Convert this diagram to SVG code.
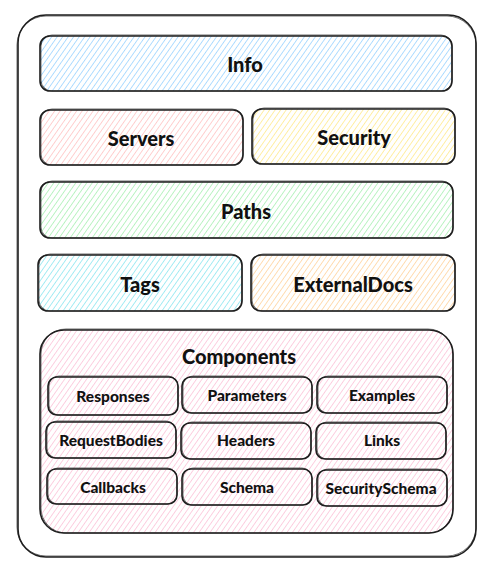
<svg xmlns="http://www.w3.org/2000/svg" width="495" height="572" viewBox="0 0 495 572">
<defs>
<pattern id="hb" width="4.5" height="4.5" patternUnits="userSpaceOnUse" patternTransform="rotate(35)"><line x1="0" y1="0" x2="0" y2="4.5" stroke="#a5d8ff" stroke-width="1.7"/></pattern>
<pattern id="hr" width="4.5" height="4.5" patternUnits="userSpaceOnUse" patternTransform="rotate(35)"><line x1="0" y1="0" x2="0" y2="4.5" stroke="#ffc9c9" stroke-width="1.7"/></pattern>
<pattern id="hy" width="4.5" height="4.5" patternUnits="userSpaceOnUse" patternTransform="rotate(35)"><line x1="0" y1="0" x2="0" y2="4.5" stroke="#ffec99" stroke-width="1.7"/></pattern>
<pattern id="hg" width="4.5" height="4.5" patternUnits="userSpaceOnUse" patternTransform="rotate(35)"><line x1="0" y1="0" x2="0" y2="4.5" stroke="#b2f2bb" stroke-width="1.7"/></pattern>
<pattern id="hc" width="4.5" height="4.5" patternUnits="userSpaceOnUse" patternTransform="rotate(35)"><line x1="0" y1="0" x2="0" y2="4.5" stroke="#99e9f2" stroke-width="1.7"/></pattern>
<pattern id="ho" width="4.5" height="4.5" patternUnits="userSpaceOnUse" patternTransform="rotate(35)"><line x1="0" y1="0" x2="0" y2="4.5" stroke="#ffd8a8" stroke-width="1.7"/></pattern>
<pattern id="hp" width="4.5" height="4.5" patternUnits="userSpaceOnUse" patternTransform="rotate(35)"><line x1="0" y1="0" x2="0" y2="4.5" stroke="#fcc2d7" stroke-width="1.5"/></pattern>
</defs>
<style>
.b{fill:none;stroke:#1e1e1e;stroke-width:1.6;stroke-linejoin:round}
.b2{fill:none;stroke:#1e1e1e;stroke-width:0.9;opacity:0.7}
.t{font-family:Lato,"Open Sans","DejaVu Sans",sans-serif;font-weight:900;fill:#111111;text-anchor:middle;dominant-baseline:central}
.l{font-size:20px}
.s{font-size:15.5px}
</style>
<rect width="495" height="572" fill="#ffffff"/>
<g id="container">
<rect class="b" x="18" y="15" width="458" height="542" rx="28"/>
<rect class="b2" x="17" y="16" width="459" height="540" rx="29"/>
</g>
<g id="info">
<rect x="40" y="36" width="412" height="55" rx="10" fill="url(#hb)"/>
<rect class="b" x="40" y="36" width="412" height="55" rx="10"/>
<rect class="b2" x="41" y="35" width="411" height="56" rx="11"/>
<text class="t l" x="245" y="64">Info</text>
</g>
<g id="servers">
<rect x="40" y="110" width="203" height="55" rx="10" fill="url(#hr)"/>
<rect class="b" x="40" y="110" width="203" height="55" rx="10"/>
<rect class="b2" x="41" y="109" width="202" height="56" rx="11"/>
<text class="t l" x="141" y="138">Servers</text>
</g>
<g id="security">
<rect x="252" y="109" width="203" height="55" rx="10" fill="url(#hy)"/>
<rect class="b" x="252" y="109" width="203" height="55" rx="10"/>
<rect class="b2" x="253" y="108" width="202" height="56" rx="11"/>
<text class="t l" x="354" y="137">Security</text>
</g>
<g id="paths">
<rect x="40" y="182" width="413" height="56" rx="10" fill="url(#hg)"/>
<rect class="b" x="40" y="182" width="413" height="56" rx="10"/>
<rect class="b2" x="41" y="181" width="412" height="57" rx="11"/>
<text class="t l" x="246" y="211">Paths</text>
</g>
<g id="tags">
<rect x="38" y="255" width="204" height="56" rx="10" fill="url(#hc)"/>
<rect class="b" x="38" y="255" width="204" height="56" rx="10"/>
<rect class="b2" x="39" y="254" width="203" height="57" rx="11"/>
<text class="t l" x="140" y="284">Tags</text>
</g>
<g id="externaldocs">
<rect x="251" y="255" width="204" height="56" rx="10" fill="url(#ho)"/>
<rect class="b" x="251" y="255" width="204" height="56" rx="10"/>
<rect class="b2" x="252" y="254" width="203" height="57" rx="11"/>
<text class="t l" x="353" y="284">ExternalDocs</text>
</g>
<g id="components">
<rect x="40" y="330" width="413" height="203" rx="24" fill="url(#hp)"/>
<rect class="b" x="40" y="330" width="413" height="203" rx="24"/>
<rect class="b2" x="41" y="329" width="412" height="204" rx="25"/>
<text class="t l" x="239" y="356">Components</text>
</g>
<g id="responses"><rect class="b" x="48" y="377" width="130" height="38" rx="9"/><rect class="b2" x="49" y="376" width="129" height="39" rx="10"/><text class="t s" x="113" y="396">Responses</text></g>
<g id="parameters"><rect class="b" x="182" y="377" width="130" height="36" rx="9"/><rect class="b2" x="183" y="376" width="129" height="37" rx="10"/><text class="t s" x="247" y="395">Parameters</text></g>
<g id="examples"><rect class="b" x="317" y="377" width="130" height="36" rx="9"/><rect class="b2" x="318" y="376" width="129" height="37" rx="10"/><text class="t s" x="382" y="395">Examples</text></g>
<g id="requestbodies"><rect class="b" x="46" y="422" width="130" height="36" rx="9"/><rect class="b2" x="47" y="421" width="129" height="37" rx="10"/><text class="t s" x="111" y="440">RequestBodies</text></g>
<g id="headers"><rect class="b" x="181" y="423" width="130" height="36" rx="9"/><rect class="b2" x="182" y="422" width="129" height="37" rx="10"/><text class="t s" x="246" y="440">Headers</text></g>
<g id="links"><rect class="b" x="316" y="423" width="130" height="36" rx="9"/><rect class="b2" x="317" y="422" width="129" height="37" rx="10"/><text class="t s" x="382" y="440">Links</text></g>
<g id="callbacks"><rect class="b" x="47" y="469" width="130" height="35" rx="9"/><rect class="b2" x="48" y="468" width="129" height="36" rx="10"/><text class="t s" x="113" y="487">Callbacks</text></g>
<g id="schema"><rect class="b" x="182" y="469" width="130" height="36" rx="9"/><rect class="b2" x="183" y="468" width="129" height="37" rx="10"/><text class="t s" x="247" y="487">Schema</text></g>
<g id="securityschema"><rect class="b" x="317" y="470" width="130" height="36" rx="9"/><rect class="b2" x="318" y="469" width="129" height="37" rx="10"/><text class="t s" x="381" y="488">SecuritySchema</text></g>
<g id="connectors"/>
</svg>
